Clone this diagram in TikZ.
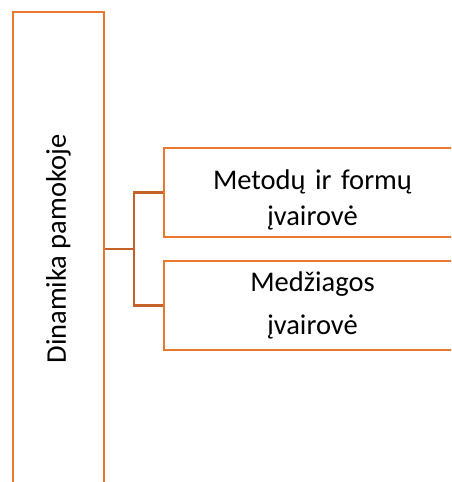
\documentclass[tikz,border=0pt]{standalone}
\usepackage{fontspec}
\setmainfont{Carlito}
\usepackage{tikz}
\usetikzlibrary{positioning}

\definecolor{boxorange}{HTML}{E8782F}
\definecolor{linkbrown}{HTML}{C5622A}

\begin{document}
\begin{tikzpicture}[
	x=1pt, y=-1pt
	,box/.style={draw=boxorange, line width=2.6pt, inner sep=0pt}
	,link/.style={draw=linkbrown, line width=2.6pt}
	,big/.style={font=\fontsize{28.5}{36}\selectfont}
]
	\useasboundingbox (0,0) rectangle (451,482);
	\clip (0,0) rectangle (451,482);

	\node[box, big, minimum width=91pt, minimum height=474pt] (dyn) at (58.5,249) {\rotatebox{90}{Dinamika pamokoje}};
	\node[box, big, minimum width=306pt, minimum height=89pt, text width=306pt, align=center, text depth=26pt] (methods) at (317,192.5) {\hspace*{-9pt}Metodų ir formų\\\hspace*{-9pt}įvairovė};
	\node[box, big, minimum width=306pt, minimum height=89pt, text width=306pt, align=center] (matter) at (317,305.5) {\hspace*{-9pt}Medžiagos\\[7pt]\hspace*{-9pt}įvairovė};

	\coordinate (fork) at (134,249);
	\draw[link] (dyn.east |- fork) -- (fork);
	\draw[link] (methods.west) -- (fork |- methods.west) -- (fork |- matter.west) -- (matter.west);
\end{tikzpicture}
\end{document}
